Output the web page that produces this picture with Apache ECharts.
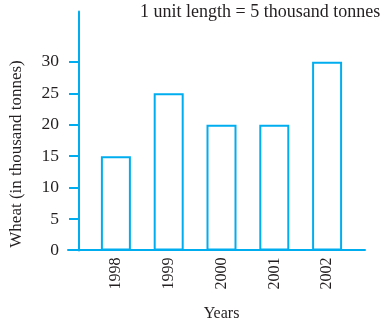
<!DOCTYPE html>
<html>
<head>
<meta charset="utf-8">
<script src="https://cdn.jsdelivr.net/npm/echarts@6/dist/echarts.min.js"></script>
<style>html,body{margin:0;padding:0;background:#fff;}#c{width:389px;height:328px;}</style>
</head>
<body>
<div id="c"></div>
<script>
const years = ['1998', '1999', '2000', '2001', '2002'];
const wheat = [15, 25, 20, 20, 30];
const yTicks = [0, 5, 10, 15, 20, 25, 30];
const noteText = '1 unit length = 5 thousand tonnes';
const yName = 'Wheat (in thousand tonnes)';
const xName = 'Years';

const BLUE = '#00aeef';
const TXT = '#231f20';
const FONT = '"Liberation Serif", "Times New Roman", serif';

const chart = echarts.init(document.getElementById('c'), null, {renderer: 'canvas'});
chart.setOption({
  animation: false,
  backgroundColor: '#fff',
  title: {
    text: noteText,
    left: 140, top: 3, padding: 0,
    textStyle: {fontFamily: FONT, fontSize: 18, fontWeight: 'normal', color: TXT}
  },
  grid: [
    {left: 88.5, right: 35.5, top: 11.5, bottom: 77.5, containLabel: false},
    {left: 68, right: 24, top: 11.5, bottom: 78.5, containLabel: false}
  ],
  xAxis: [
    {
      type: 'category', gridIndex: 0, data: years,
      axisLine: {show: false}, axisTick: {show: false},
      axisLabel: {rotate: 90, margin: 7, fontFamily: FONT, fontSize: 16, color: TXT},
      name: xName, nameLocation: 'middle', nameGap: 55,
      nameTextStyle: {fontFamily: FONT, fontSize: 16, color: TXT}
    },
    {
      type: 'value', gridIndex: 1, min: 0, max: 1, z: 10,
      axisLine: {show: true, onZero: false, lineStyle: {color: BLUE, width: 2}},
      axisTick: {show: false}, axisLabel: {show: false}, splitLine: {show: false}
    }
  ],
  yAxis: [
    {
      type: 'value', gridIndex: 0, min: 0, max: 38, offset: 10.5,
      axisLine: {show: true, lineStyle: {color: BLUE, width: 2}},
      axisTick: {show: true, length: 10, customValues: yTicks.slice(1), lineStyle: {color: BLUE, width: 2}},
      axisLabel: {customValues: yTicks, margin: 20, fontFamily: FONT, fontSize: 17.5, color: TXT},
      splitLine: {show: false},
      name: yName, nameLocation: 'middle', nameGap: 54, nameRotate: 90,
      nameTextStyle: {fontFamily: FONT, fontSize: 17, color: TXT, padding: [0, 46, 0, 0]}
    },
    {
      type: 'value', gridIndex: 1, min: 0, max: 1, show: false
    }
  ],
  series: [{
    type: 'bar', xAxisIndex: 0, yAxisIndex: 0, data: wheat, barWidth: 30,
    itemStyle: {color: '#fff', borderColor: BLUE, borderWidth: 2},
    silent: true
  }]
});
</script>
</body>
</html>
